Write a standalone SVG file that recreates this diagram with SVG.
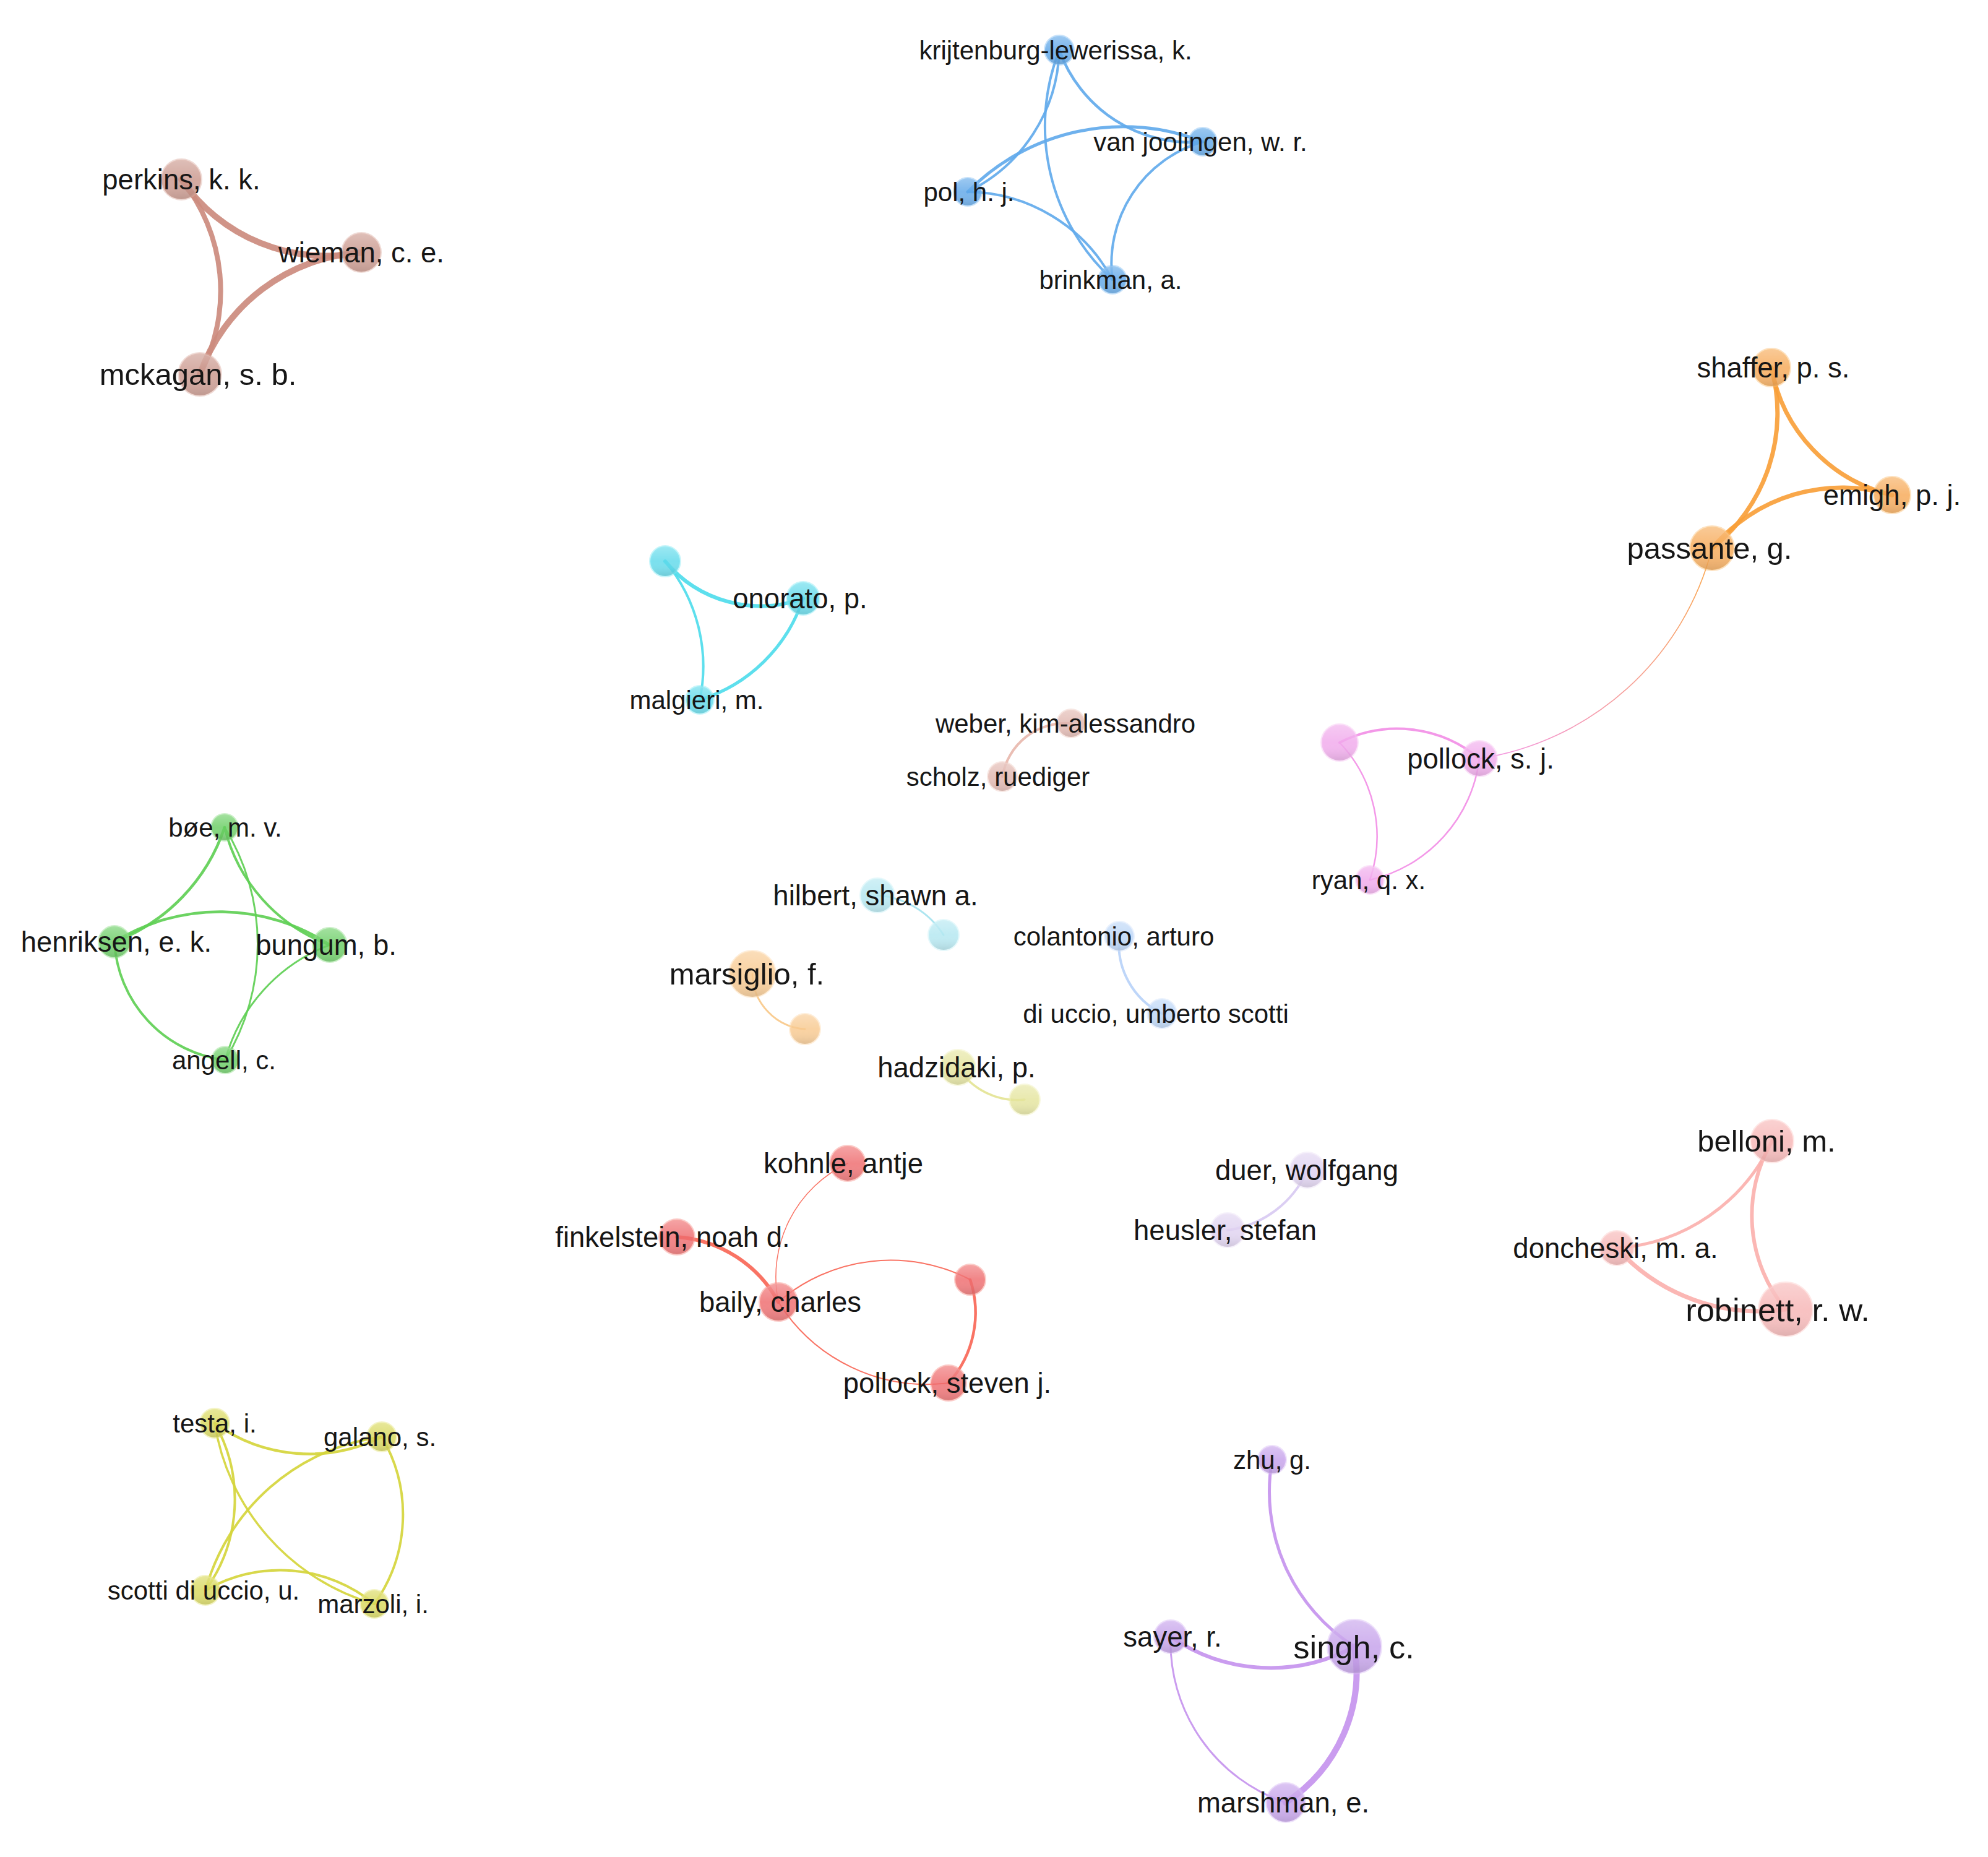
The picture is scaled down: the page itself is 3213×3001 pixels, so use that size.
<svg xmlns="http://www.w3.org/2000/svg" width="3213" height="3001" viewBox="0 0 3213 3001">
<style>
.e{fill:none;stroke-linecap:round;stroke-opacity:.92}
.n{stroke-width:4;stroke-opacity:.45;fill-opacity:.82}
.sh{fill:url(#shade)}
text{font-family:"Liberation Sans",Arial,sans-serif;fill:#161616;text-anchor:middle;dominant-baseline:central}
.f1{font-size:42px}.f2{font-size:45.5px}.f3{font-size:49px}.f4{font-size:52.5px}
.ebr{stroke:#cc8b7e}.nbr{fill:#c9968b;stroke:#dcaca1}
.ebl{stroke:#62aaeb}.nbl{fill:#5ea6e8;stroke:#80bdf2}
.eor{stroke:#f9a03a}.nor{fill:#f6a856;stroke:#fbbd72}
.epk{stroke:#f28fe6}.npk{fill:#f0a8ec;stroke:#f6c0f2}
.ecy{stroke:#4fdcec}.ncy{fill:#5ed9ea;stroke:#82e8f4}
.ews{stroke:#e8b8ae}.nws{fill:#e0b6ae;stroke:#eecac2}
.egr{stroke:#5fcf55}.ngr{fill:#68cd62;stroke:#8bdc84}
.ehi{stroke:#a6e3ef}.nhi{fill:#b2e6f0;stroke:#c6eff6}
.ema{stroke:#f9c98a}.nma{fill:#f8c88e;stroke:#fcd9ac}
.eco{stroke:#b8d3f8}.nco{fill:#bbd5f6;stroke:#cfe1fa}
.eha{stroke:#e4e495}.nha{fill:#e4e49c;stroke:#efefb8}
.ere{stroke:#f86757}.nre{fill:#ee6a6c;stroke:#f78e88}
.edu{stroke:#d8caf2}.ndu{fill:#dfd2f0;stroke:#eae0f7}
.ebe{stroke:#fbb1ae}.nbe{fill:#f6b4b4;stroke:#fcc9c7}
.eye{stroke:#d5d53c}.nye{fill:#d8d85a;stroke:#e4e47c}
.epu{stroke:#c694ee}.npu{fill:#c4a0ea;stroke:#d8baf5}
</style>
<defs>
<linearGradient id="shade" x1="0" y1="0" x2="0" y2="1">
<stop offset="0" stop-color="#ffffff" stop-opacity=".25"/>
<stop offset="0.5" stop-color="#ffffff" stop-opacity="0"/>
<stop offset="1" stop-color="#000000" stop-opacity=".1"/>
</linearGradient>
<linearGradient id="gPaPo" gradientUnits="userSpaceOnUse" x1="2767" y1="886" x2="2391" y2="1226">
<stop offset="0" stop-color="#f9a03a"/>
<stop offset="1" stop-color="#f28fe6"/>
</linearGradient>
</defs>
<rect width="3213" height="3001" fill="#ffffff"/>
<g id="connectors">
<path class="e ebr" stroke-width="10" d="M293 290A285 285 0 0 0 584 408"/>
<path class="e ebr" stroke-width="10" d="M584 408A297 297 0 0 0 323 605"/>
<path class="e ebr" stroke-width="8" d="M323 605A287 287 0 0 0 293 290"/>
<path class="e ebl" stroke-width="4.5" d="M1712 81A225 225 0 0 0 1944 229"/>
<path class="e ebl" stroke-width="4" d="M1564 310A263 263 0 0 0 1712 81"/>
<path class="e ebl" stroke-width="4" d="M1712 81A337 337 0 0 0 1798 452"/>
<path class="e ebl" stroke-width="5" d="M1944 229A353 353 0 0 0 1564 310"/>
<path class="e ebl" stroke-width="4" d="M1944 229A205 205 0 0 0 1798 452"/>
<path class="e ebl" stroke-width="4" d="M1798 452A269 269 0 0 0 1564 310"/>
<path class="e eor" stroke-width="7" d="M2863 594A258 258 0 0 0 3058 800"/>
<path class="e eor" stroke-width="7" d="M2767 886A279 279 0 0 0 2863 594"/>
<path class="e eor" stroke-width="7" d="M3058 800A275 275 0 0 0 2767 886"/>
<path class="e" stroke="url(#gPaPo)" stroke-width="1.6" d="M2391 1226A460 460 0 0 0 2767 886"/>
<path class="e epk" stroke-width="4" d="M2391 1226A206 206 0 0 0 2165 1200"/>
<path class="e epk" stroke-width="2.5" d="M2214 1422A220 220 0 0 0 2165 1200"/>
<path class="e epk" stroke-width="2.5" d="M2214 1422A230 230 0 0 0 2391 1226"/>
<path class="e ecy" stroke-width="6" d="M1075 907A200 200 0 0 0 1298 967"/>
<path class="e ecy" stroke-width="4" d="M1131 1131A265 265 0 0 0 1075 907"/>
<path class="e ecy" stroke-width="5" d="M1131 1131A254 254 0 0 0 1298 967"/>
<path class="e ews" stroke-width="4" d="M1731 1169A104 104 0 0 0 1620 1255"/>
<path class="e egr" stroke-width="4.5" d="M185 1522A299 299 0 0 0 363 1337"/>
<path class="e egr" stroke-width="4" d="M363 1337A270 270 0 0 0 533 1527"/>
<path class="e egr" stroke-width="3" d="M364 1713A360 360 0 0 0 363 1337"/>
<path class="e egr" stroke-width="4.5" d="M533 1527A322 322 0 0 0 185 1522"/>
<path class="e egr" stroke-width="4" d="M185 1522A203 203 0 0 0 364 1713"/>
<path class="e egr" stroke-width="3" d="M533 1527A277 277 0 0 0 364 1713"/>
<path class="e ehi" stroke-width="3" d="M1525 1511A138 138 0 0 0 1418 1447"/>
<path class="e ema" stroke-width="3" d="M1216 1574A91 91 0 0 0 1301 1663"/>
<path class="e eco" stroke-width="4" d="M1809 1513A125 125 0 0 0 1878 1638"/>
<path class="e eha" stroke-width="3.5" d="M1548 1725A114 114 0 0 0 1656 1777"/>
<path class="e ere" stroke-width="6" d="M1258 2104A203 203 0 0 0 1094 1999"/>
<path class="e ere" stroke-width="1.5" d="M1370 1880A203 203 0 0 0 1258 2104"/>
<path class="e ere" stroke-width="2" d="M1568 2068A278 278 0 0 0 1258 2104"/>
<path class="e ere" stroke-width="2" d="M1258 2104A283 283 0 0 0 1533 2235"/>
<path class="e ere" stroke-width="4.5" d="M1533 2235A170 170 0 0 0 1568 2068"/>
<path class="e edu" stroke-width="4" d="M1984 1988A165 165 0 0 0 2113 1891"/>
<path class="e ebe" stroke-width="5" d="M2613 2017A298 298 0 0 0 2864 1844"/>
<path class="e ebe" stroke-width="6" d="M2864 1844A238 238 0 0 0 2886 2116"/>
<path class="e ebe" stroke-width="7" d="M2613 2017A310 310 0 0 0 2886 2116"/>
<path class="e eye" stroke-width="4.5" d="M347 2300A261 261 0 0 0 617 2322"/>
<path class="e eye" stroke-width="4" d="M332 2570A250 250 0 0 0 347 2300"/>
<path class="e eye" stroke-width="3.5" d="M347 2300A362 362 0 0 0 605 2592"/>
<path class="e eye" stroke-width="4" d="M617 2322A342 342 0 0 0 332 2570"/>
<path class="e eye" stroke-width="4" d="M605 2592A248 248 0 0 0 617 2322"/>
<path class="e eye" stroke-width="4" d="M605 2592A240 240 0 0 0 332 2570"/>
<path class="e epu" stroke-width="5" d="M2056 2359A297 297 0 0 0 2189 2661"/>
<path class="e epu" stroke-width="6" d="M1892 2645A284 284 0 0 0 2189 2661"/>
<path class="e epu" stroke-width="3" d="M1892 2645A273 273 0 0 0 2078 2913"/>
<path class="e epu" stroke-width="10" d="M2078 2913A251 251 0 0 0 2189 2661"/>
</g>
<g id="node-perkins"><circle class="n nbr" cx="293" cy="290" r="32"/><circle class="sh" cx="293" cy="290" r="32"/><text class="f2" x="293" y="290">perkins, k. k.</text></g>
<g id="node-wieman"><circle class="n nbr" cx="584" cy="408" r="31"/><circle class="sh" cx="584" cy="408" r="31"/><text class="f2" x="584" y="408">wieman, c. e.</text></g>
<g id="node-mckagan"><circle class="n nbr" cx="323" cy="605" r="34"/><circle class="sh" cx="323" cy="605" r="34"/><text class="f3" x="320" y="605">mckagan, s. b.</text></g>
<g id="node-krijtenburg"><circle class="n nbl" cx="1712" cy="81" r="23"/><circle class="sh" cx="1712" cy="81" r="23"/><text class="f1" x="1706" y="81">krijtenburg-lewerissa, k.</text></g>
<g id="node-vanjoolingen"><circle class="n nbl" cx="1944" cy="229" r="22"/><circle class="sh" cx="1944" cy="229" r="22"/><text class="f1" x="1940" y="229">van joolingen, w. r.</text></g>
<g id="node-pol"><circle class="n nbl" cx="1564" cy="310" r="22"/><circle class="sh" cx="1564" cy="310" r="22"/><text class="f1" x="1566" y="310">pol, h. j.</text></g>
<g id="node-brinkman"><circle class="n nbl" cx="1798" cy="452" r="22"/><circle class="sh" cx="1798" cy="452" r="22"/><text class="f1" x="1795" y="452">brinkman, a.</text></g>
<g id="node-shaffer"><circle class="n nor" cx="2863" cy="594" r="30"/><circle class="sh" cx="2863" cy="594" r="30"/><text class="f2" x="2866" y="594">shaffer, p. s.</text></g>
<g id="node-emigh"><circle class="n nor" cx="3058" cy="800" r="29"/><circle class="sh" cx="3058" cy="800" r="29"/><text class="f2" x="3058" y="800">emigh, p. j.</text></g>
<g id="node-passante"><circle class="n nor" cx="2767" cy="886" r="35"/><circle class="sh" cx="2767" cy="886" r="35"/><text class="f3" x="2763" y="886">passante, g.</text></g>
<g id="node-pink-unlabeled"><circle class="n npk" cx="2165" cy="1200" r="29"/><circle class="sh" cx="2165" cy="1200" r="29"/></g>
<g id="node-pollock-sj"><circle class="n npk" cx="2391" cy="1226" r="28"/><circle class="sh" cx="2391" cy="1226" r="28"/><text class="f2" x="2393" y="1226">pollock, s. j.</text></g>
<g id="node-ryan"><circle class="n npk" cx="2214" cy="1422" r="22"/><circle class="sh" cx="2214" cy="1422" r="22"/><text class="f1" x="2212" y="1422">ryan, q. x.</text></g>
<g id="node-cyan-unlabeled"><circle class="n ncy" cx="1075" cy="907" r="24"/><circle class="sh" cx="1075" cy="907" r="24"/></g>
<g id="node-onorato"><circle class="n ncy" cx="1298" cy="967" r="26"/><circle class="sh" cx="1298" cy="967" r="26"/><text class="f2" x="1293" y="967">onorato, p.</text></g>
<g id="node-malgieri"><circle class="n ncy" cx="1131" cy="1131" r="22"/><circle class="sh" cx="1131" cy="1131" r="22"/><text class="f1" x="1126" y="1131">malgieri, m.</text></g>
<g id="node-weber"><circle class="n nws" cx="1731" cy="1169" r="22"/><circle class="sh" cx="1731" cy="1169" r="22"/><text class="f1" x="1722" y="1169">weber, kim-alessandro</text></g>
<g id="node-scholz"><circle class="n nws" cx="1620" cy="1255" r="23"/><circle class="sh" cx="1620" cy="1255" r="23"/><text class="f1" x="1613" y="1255">scholz, ruediger</text></g>
<g id="node-boe"><circle class="n ngr" cx="363" cy="1337" r="21"/><circle class="sh" cx="363" cy="1337" r="21"/><text class="f1" x="364" y="1337">bøe, m. v.</text></g>
<g id="node-henriksen"><circle class="n ngr" cx="185" cy="1522" r="25"/><circle class="sh" cx="185" cy="1522" r="25"/><text class="f2" x="188" y="1522">henriksen, e. k.</text></g>
<g id="node-bungum"><circle class="n ngr" cx="533" cy="1527" r="27"/><circle class="sh" cx="533" cy="1527" r="27"/><text class="f2" x="527" y="1527">bungum, b.</text></g>
<g id="node-angell"><circle class="n ngr" cx="364" cy="1713" r="21"/><circle class="sh" cx="364" cy="1713" r="21"/><text class="f1" x="362" y="1713">angell, c.</text></g>
<g id="node-hilbert"><circle class="n nhi" cx="1418" cy="1447" r="27"/><circle class="sh" cx="1418" cy="1447" r="27"/><text class="f2" x="1415" y="1447">hilbert, shawn a.</text></g>
<g id="node-hilbert-partner"><circle class="n nhi" cx="1525" cy="1511" r="24"/><circle class="sh" cx="1525" cy="1511" r="24"/></g>
<g id="node-marsiglio"><circle class="n nma" cx="1216" cy="1574" r="37"/><circle class="sh" cx="1216" cy="1574" r="37"/><text class="f3" x="1207" y="1574">marsiglio, f.</text></g>
<g id="node-marsiglio-partner"><circle class="n nma" cx="1301" cy="1663" r="24"/><circle class="sh" cx="1301" cy="1663" r="24"/></g>
<g id="node-colantonio"><circle class="n nco" cx="1809" cy="1513" r="23"/><circle class="sh" cx="1809" cy="1513" r="23"/><text class="f1" x="1800" y="1513">colantonio, arturo</text></g>
<g id="node-diuccio"><circle class="n nco" cx="1878" cy="1638" r="23"/><circle class="sh" cx="1878" cy="1638" r="23"/><text class="f1" x="1868" y="1638">di uccio, umberto scotti</text></g>
<g id="node-hadzidaki"><circle class="n nha" cx="1548" cy="1725" r="28"/><circle class="sh" cx="1548" cy="1725" r="28"/><text class="f2" x="1546" y="1725">hadzidaki, p.</text></g>
<g id="node-hadzidaki-partner"><circle class="n nha" cx="1656" cy="1777" r="24"/><circle class="sh" cx="1656" cy="1777" r="24"/></g>
<g id="node-kohnle"><circle class="n nre" cx="1370" cy="1880" r="28"/><circle class="sh" cx="1370" cy="1880" r="28"/><text class="f2" x="1363" y="1880">kohnle, antje</text></g>
<g id="node-finkelstein"><circle class="n nre" cx="1094" cy="1999" r="28"/><circle class="sh" cx="1094" cy="1999" r="28"/><text class="f2" x="1087" y="1999">finkelstein, noah d.</text></g>
<g id="node-baily"><circle class="n nre" cx="1258" cy="2104" r="30"/><circle class="sh" cx="1258" cy="2104" r="30"/><text class="f2" x="1261" y="2104">baily, charles</text></g>
<g id="node-red-unlabeled"><circle class="n nre" cx="1568" cy="2068" r="24"/><circle class="sh" cx="1568" cy="2068" r="24"/></g>
<g id="node-pollock-steven"><circle class="n nre" cx="1533" cy="2235" r="28"/><circle class="sh" cx="1533" cy="2235" r="28"/><text class="f2" x="1531" y="2235">pollock, steven j.</text></g>
<g id="node-duer"><circle class="n ndu" cx="2113" cy="1891" r="28"/><circle class="sh" cx="2113" cy="1891" r="28"/><text class="f2" x="2112" y="1891">duer, wolfgang</text></g>
<g id="node-heusler"><circle class="n ndu" cx="1984" cy="1988" r="27"/><circle class="sh" cx="1984" cy="1988" r="27"/><text class="f2" x="1980" y="1988">heusler, stefan</text></g>
<g id="node-belloni"><circle class="n nbe" cx="2864" cy="1844" r="34"/><circle class="sh" cx="2864" cy="1844" r="34"/><text class="f3" x="2855" y="1844">belloni, m.</text></g>
<g id="node-doncheski"><circle class="n nbe" cx="2613" cy="2017" r="27"/><circle class="sh" cx="2613" cy="2017" r="27"/><text class="f2" x="2611" y="2017">doncheski, m. a.</text></g>
<g id="node-robinett"><circle class="n nbe" cx="2886" cy="2116" r="43"/><circle class="sh" cx="2886" cy="2116" r="43"/><text class="f4" x="2873" y="2116">robinett, r. w.</text></g>
<g id="node-testa"><circle class="n nye" cx="347" cy="2300" r="23"/><circle class="sh" cx="347" cy="2300" r="23"/><text class="f1" x="347" y="2300">testa, i.</text></g>
<g id="node-galano"><circle class="n nye" cx="617" cy="2322" r="23"/><circle class="sh" cx="617" cy="2322" r="23"/><text class="f1" x="614" y="2322">galano, s.</text></g>
<g id="node-scotti"><circle class="n nye" cx="332" cy="2570" r="23"/><circle class="sh" cx="332" cy="2570" r="23"/><text class="f1" x="329" y="2570">scotti di uccio, u.</text></g>
<g id="node-marzoli"><circle class="n nye" cx="605" cy="2592" r="22"/><circle class="sh" cx="605" cy="2592" r="22"/><text class="f1" x="603" y="2592">marzoli, i.</text></g>
<g id="node-zhu"><circle class="n npu" cx="2056" cy="2359" r="22"/><circle class="sh" cx="2056" cy="2359" r="22"/><text class="f1" x="2056" y="2359">zhu, g.</text></g>
<g id="node-sayer"><circle class="n npu" cx="1892" cy="2645" r="26"/><circle class="sh" cx="1892" cy="2645" r="26"/><text class="f2" x="1895" y="2645">sayer, r.</text></g>
<g id="node-singh"><circle class="n npu" cx="2189" cy="2661" r="43"/><circle class="sh" cx="2189" cy="2661" r="43"/><text class="f4" x="2188" y="2661">singh, c.</text></g>
<g id="node-marshman"><circle class="n npu" cx="2078" cy="2913" r="31"/><circle class="sh" cx="2078" cy="2913" r="31"/><text class="f2" x="2074" y="2913">marshman, e.</text></g>
</svg>
